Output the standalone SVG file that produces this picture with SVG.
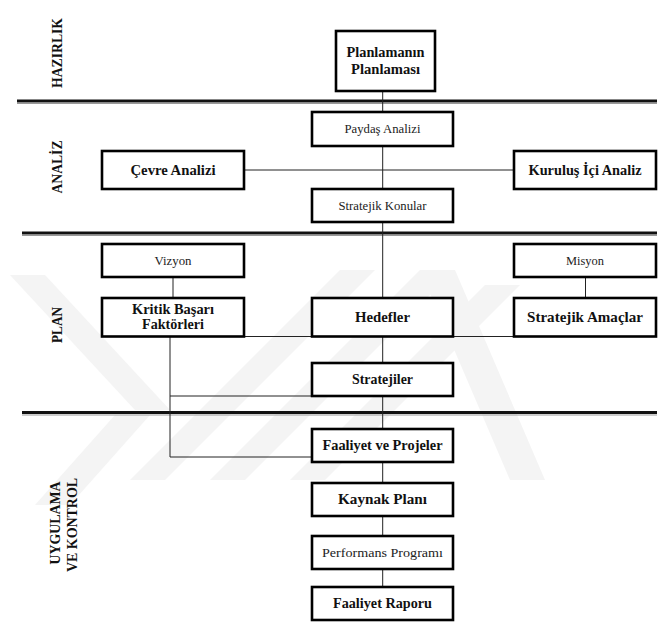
<svg xmlns="http://www.w3.org/2000/svg" width="665" height="628" viewBox="0 0 665 628">
<style>
.box{fill:#fff;stroke:#000;stroke-width:2.6}
.sep{stroke:#111;stroke-width:3}
.sepsh{stroke:#999;stroke-width:1.2}
.con{stroke:#222;stroke-width:1;fill:none}
.b{font-family:"Liberation Serif","Times New Roman",serif;font-weight:bold;font-size:15px;fill:#111;text-anchor:middle}
.r{font-family:"Liberation Serif","Times New Roman",serif;font-size:12px;fill:#222;text-anchor:middle}
.sec{font-family:"Liberation Serif","Times New Roman",serif;font-weight:bold;font-size:14px;fill:#111;text-anchor:middle}
.wm{fill:#f4f4f4}
</style>
<rect width="665" height="628" fill="#fff"/>
<g id="watermark">
<polygon class="wm" points="10,275 45,275 170,410 135,410"/>
<polygon class="wm" points="35,505 70,505 150,415 115,415"/>
<polygon class="wm" points="130,480 165,480 375,270 340,270"/>
<polygon class="wm" points="210,480 245,480 455,270 420,270"/>
<polygon class="wm" points="290,480 325,480 520,285 485,285"/>
<polygon class="wm" points="420,270 455,270 545,480 510,480"/>
</g>
<g id="separators">
<line class="sepsh" x1="17" y1="103.5" x2="657" y2="103.5"/>
<line class="sep" x1="17" y1="101" x2="657" y2="101"/>
<line class="sepsh" x1="22" y1="235.5" x2="657" y2="235.5"/>
<line class="sep" x1="22" y1="233" x2="657" y2="233"/>
<line class="sepsh" x1="22" y1="415" x2="657" y2="415"/>
<line class="sep" x1="22" y1="412.5" x2="657" y2="412.5"/>
</g>
<g id="sections">
<text class="sec" transform="rotate(-90 61.5 53)" x="61.5" y="53" textLength="70" lengthAdjust="spacingAndGlyphs">HAZIRLIK</text>
<text class="sec" transform="rotate(-90 61.5 167)" x="61.5" y="167" textLength="53" lengthAdjust="spacingAndGlyphs">ANALİZ</text>
<text class="sec" transform="rotate(-90 61.5 325)" x="61.5" y="325" textLength="36" lengthAdjust="spacingAndGlyphs">PLAN</text>
<text class="sec" transform="rotate(-90 60 523)" x="60" y="523" textLength="83" lengthAdjust="spacingAndGlyphs">UYGULAMA</text>
<text class="sec" transform="rotate(-90 77 525)" x="77" y="525" textLength="94" lengthAdjust="spacingAndGlyphs">VE KONTROL</text>
</g>
<g id="connectors">
<line class="con" x1="382.7" y1="91" x2="382.7" y2="587"/>
<line class="con" x1="244" y1="170" x2="514" y2="170"/>
<line class="con" x1="173" y1="277" x2="173" y2="298"/>
<line class="con" x1="585.5" y1="277" x2="585.5" y2="298"/>
<line class="con" x1="244" y1="336.5" x2="514" y2="336.5"/>
<polyline class="con" points="170,336.5 170,457 312,457"/>
<line class="con" x1="170" y1="396" x2="312" y2="396"/>
</g>
<g id="planlamanin">
<rect class="box" x="336" y="31" width="99" height="60"/>
<text class="b" x="385.5" y="57" textLength="78" lengthAdjust="spacingAndGlyphs">Planlamanın</text>
<text class="b" x="385.5" y="74" textLength="69" lengthAdjust="spacingAndGlyphs">Planlaması</text>
</g>
<g id="paydas">
<rect class="box" x="312" y="112" width="141" height="34"/>
<text class="r" x="382.5" y="133" textLength="76" lengthAdjust="spacingAndGlyphs">Paydaş Analizi</text>
</g>
<g id="cevre">
<rect class="box" x="102" y="151" width="142" height="38"/>
<text class="b" x="173" y="175" textLength="85" lengthAdjust="spacingAndGlyphs">Çevre Analizi</text>
</g>
<g id="kurulus">
<rect class="box" x="514" y="151" width="142" height="38"/>
<text class="b" x="585" y="175" textLength="113" lengthAdjust="spacingAndGlyphs">Kuruluş İçi Analiz</text>
</g>
<g id="konular">
<rect class="box" x="312" y="189" width="141" height="33"/>
<text class="r" x="382.5" y="209.5" textLength="88" lengthAdjust="spacingAndGlyphs">Stratejik Konular</text>
</g>
<g id="vizyon">
<rect class="box" x="102" y="244" width="142" height="33"/>
<text class="r" x="173" y="264.5" textLength="37" lengthAdjust="spacingAndGlyphs">Vizyon</text>
</g>
<g id="misyon">
<rect class="box" x="514" y="244" width="142" height="33"/>
<text class="r" x="585" y="264.5" textLength="38" lengthAdjust="spacingAndGlyphs">Misyon</text>
</g>
<g id="kritik">
<rect class="box" x="102" y="298" width="142" height="38.5"/>
<text class="b" x="173" y="314" textLength="82" lengthAdjust="spacingAndGlyphs">Kritik Başarı</text>
<text class="b" x="173" y="329" textLength="62" lengthAdjust="spacingAndGlyphs">Faktörleri</text>
</g>
<g id="hedefler">
<rect class="box" x="312" y="298" width="141" height="38.5"/>
<text class="b" x="382.5" y="322" textLength="55" lengthAdjust="spacingAndGlyphs">Hedefler</text>
</g>
<g id="amaclar">
<rect class="box" x="514" y="298" width="142" height="38.5"/>
<text class="b" x="585" y="322" textLength="116" lengthAdjust="spacingAndGlyphs">Stratejik Amaçlar</text>
</g>
<g id="stratejiler">
<rect class="box" x="312" y="363" width="141" height="33"/>
<text class="b" x="382.5" y="384" textLength="61" lengthAdjust="spacingAndGlyphs">Stratejiler</text>
</g>
<g id="faaliyet">
<rect class="box" x="312" y="429" width="141" height="33"/>
<text class="b" x="382.5" y="450" textLength="120" lengthAdjust="spacingAndGlyphs">Faaliyet ve Projeler</text>
</g>
<g id="kaynak">
<rect class="box" x="312" y="483" width="141" height="33"/>
<text class="b" x="382.5" y="504" textLength="89" lengthAdjust="spacingAndGlyphs">Kaynak Planı</text>
</g>
<g id="performans">
<rect class="box" x="312" y="536" width="141" height="33"/>
<text class="r" x="382.5" y="557" textLength="121" lengthAdjust="spacingAndGlyphs">Performans Programı</text>
</g>
<g id="rapor">
<rect class="box" x="312" y="587" width="141" height="33"/>
<text class="b" x="382.5" y="608" textLength="99" lengthAdjust="spacingAndGlyphs">Faaliyet Raporu</text>
</g>
</svg>
